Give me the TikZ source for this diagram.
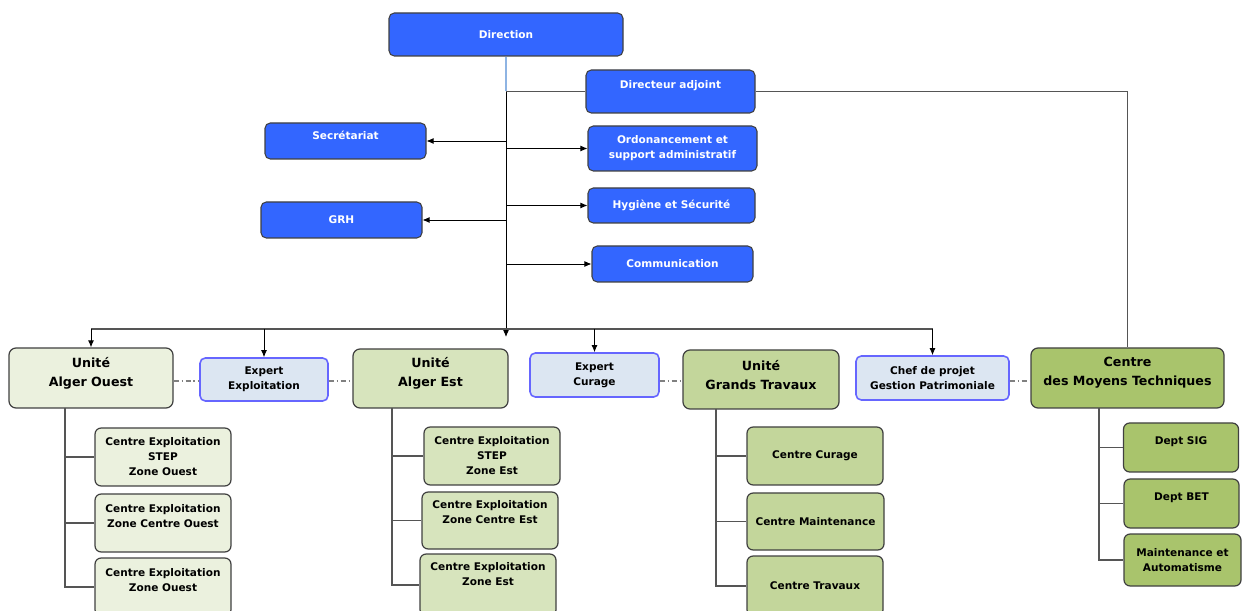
\documentclass[tikz,border=0pt]{standalone}
\usepackage{fontspec}
\setmainfont{DejaVu Sans}
\usetikzlibrary{arrows.meta}

\definecolor{dirblue}{HTML}{3366FF}
\definecolor{trunkblue}{HTML}{8EB4E3}
\definecolor{expfill}{HTML}{DCE6F2}
\definecolor{expline}{HTML}{6666FF}
\definecolor{greenA}{HTML}{EBF1DE}
\definecolor{greenB}{HTML}{D7E4BD}
\definecolor{greenC}{HTML}{C3D69B}
\definecolor{greenD}{HTML}{A9C46C}
\definecolor{edge}{HTML}{404040}
\definecolor{wire}{HTML}{555555}

\newcommand{\boxfont}{\bfseries\fontsize{6}{8.5}\selectfont}
\newcommand{\unitfont}{\bfseries\fontsize{7.2}{10.8}\selectfont}

\begin{document}
\begin{tikzpicture}[x=0.02cm, y=-0.02cm,
    boxsize/.style 2 args={minimum width=#1*0.02cm, minimum height=#2*0.02cm},
    bluebox/.style={draw=edge, fill=dirblue, rounded corners=3pt, line width=0.6pt, text=white, font=\boxfont, align=center, inner sep=0pt},
    expbox/.style={draw=expline, fill=expfill, rounded corners=3pt, line width=0.9pt, font=\boxfont, align=center, inner sep=0pt},
    unitbox/.style={draw=edge, rounded corners=4pt, line width=0.7pt, font=\unitfont, align=center, inner sep=0pt},
    subbox/.style={draw=edge, rounded corners=3.5pt, line width=0.7pt, font=\boxfont, align=center, inner sep=0pt},
    lbl/.style={font=\boxfont, align=center, inner sep=0pt},
    unitlbl/.style={font=\unitfont, align=center, inner sep=0pt},
    link/.style={draw=wire, line width=0.7pt},
    arr/.style={-{Latex[length=4pt,width=3.4pt]}, black, line width=0.5pt},
    peer/.style={draw=gray, line width=0.6pt, dash pattern=on 3pt off 1.5pt on 0.8pt off 1.5pt}]
    \useasboundingbox (0,0) rectangle (1242,611);

    % direction and staff
    \node[bluebox, boxsize={234}{43}] (dir) at (506,34.5) {Direction};
    \node[bluebox, boxsize={169}{43}, label={[lbl, text=white, yshift=3.1pt]center:Directeur adjoint}] (adj) at (670.5,91.5) {};
    \node[bluebox, boxsize={161}{36}, label={[lbl, text=white, yshift=3.4pt]center:Secrétariat}] (sec) at (345.5,141) {};
    \node[bluebox, boxsize={169}{45}] (ord) at (672.5,148.5) {Ordonancement et\\support administratif};
    \node[bluebox, boxsize={167}{35}] (hyg) at (671.5,205.5) {Hygiène et Sécurité};
    \node[bluebox, boxsize={161}{36}] (grh) at (341.5,220) {GRH};
    \node[bluebox, boxsize={161}{36}] (com) at (672.5,264) {Communication};

    % units and experts
    \node[unitbox, fill=greenA, boxsize={164}{60}, label={[unitlbl, yshift=2.8pt]center:{Unité\\Alger Ouest}}] (ouest) at (91,378) {};
    \node[expbox, boxsize={128}{43}] (expl) at (264,379.5) {Expert\\Exploitation};
    \node[unitbox, fill=greenB, boxsize={155}{59}, label={[unitlbl, yshift=2.8pt]center:{Unité\\Alger Est}}] (est) at (430.5,378.5) {};
    \node[expbox, boxsize={129}{44}] (curage) at (594.5,375) {Expert\\Curage};
    \node[unitbox, fill=greenC, boxsize={156}{59}, label={[unitlbl, yshift=2.8pt]center:{Unité\\Grands Travaux}}] (gt) at (761,379.5) {};
    \node[expbox, boxsize={153}{44}] (chef) at (932.5,378) {Chef de projet\\Gestion Patrimoniale};
    \node[unitbox, fill=greenD, boxsize={193}{60}, label={[unitlbl, yshift=2.8pt]center:{Centre\\des Moyens Techniques}}] (cmt) at (1127.5,378) {};

    % centres
    \node[subbox, fill=greenA, boxsize={136}{58}] (ow1) at (163,457) {Centre Exploitation\\STEP\\Zone Ouest};
    \node[subbox, fill=greenA, boxsize={136}{58}, label={[lbl, yshift=4.2pt]center:{Centre Exploitation\\Zone Centre Ouest}}] (ow2) at (163,523) {};
    \node[subbox, fill=greenA, boxsize={136}{58}, label={[lbl, yshift=4.2pt]center:{Centre Exploitation\\Zone Ouest}}] (ow3) at (163,587) {};
    \node[subbox, fill=greenB, boxsize={136}{58}] (ew1) at (492,456) {Centre Exploitation\\STEP\\Zone Est};
    \node[subbox, fill=greenB, boxsize={136}{57}, label={[lbl, yshift=4.8pt]center:{Centre Exploitation\\Zone Centre Est}}] (ew2) at (490,520.5) {};
    \node[subbox, fill=greenB, boxsize={136}{62}, label={[lbl, yshift=6pt]center:{Centre Exploitation\\Zone Est}}] (ew3) at (488,585) {};
    \node[subbox, fill=greenC, boxsize={136}{58}] (gt1) at (815,456) {Centre Curage};
    \node[subbox, fill=greenC, boxsize={137}{57}] (gt2) at (815.5,521.5) {Centre Maintenance};
    \node[subbox, fill=greenC, boxsize={136}{60}] (gt3) at (815,586) {Centre Travaux};
    \node[subbox, fill=greenD, boxsize={115}{49}, label={[lbl, yshift=3.1pt]center:Dept SIG}] (ct1) at (1181,447.5) {};
    \node[subbox, fill=greenD, boxsize={115}{49}, label={[lbl, yshift=3.1pt]center:Dept BET}] (ct2) at (1181.5,503.5) {};
    \node[subbox, fill=greenD, boxsize={117}{52}] (ct3) at (1182.5,560) {Maintenance et\\Automatisme};

    \coordinate (top) at (dir.south |- adj.west);
    \coordinate (bot) at (506,337);
    \coordinate (bus) at (506,329);
    \coordinate (row) at (0,381);
    \coordinate (ow) at (65,408);
    \coordinate (ew) at (392,408);
    \coordinate (gw) at (716,409);
    \coordinate (cw) at (1099,408);

    % trunk
    \draw[trunkblue, line width=0.8pt] (dir.south) -- (top);
    \draw[arr] (top) -- (bot);
    \draw[link] (top) -- (adj.west);
    \draw[link] (adj.east) -| (cmt.north);
    \draw[arr] (sec.east -| top) -- (sec.east);
    \draw[arr] (grh.east -| top) -- (grh.east);
    \draw[arr] (ord.west -| top) -- (ord.west);
    \draw[arr] (hyg.west -| top) -- (hyg.west);
    \draw[arr] (com.west -| top) -- (com.west);

    % bus
    \draw[link] (ouest.north |- bus) -- (chef.north |- bus);
    \draw[arr] (ouest.north |- bus) -- (ouest.north);
    \draw[arr] (expl.north |- bus) -- (expl.north);
    \draw[arr] (curage.north |- bus) -- (curage.north);
    \draw[arr] (chef.north |- bus) -- (chef.north);

    % dash dot links
    \draw[peer] (ouest.east |- row) -- (expl.west |- row);
    \draw[peer] (expl.east |- row) -- (est.west |- row);
    \draw[peer] (curage.east |- row) -- (gt.west |- row);
    \draw[peer] (chef.east |- row) -- (cmt.west |- row);

    % subtrees
    \draw[link] (ow) |- (ow3.west);
    \draw[link] (ow |- ow1.west) -- (ow1.west);
    \draw[link] (ow |- ow2.west) -- (ow2.west);
    \draw[link] (ew) |- (ew3.west);
    \draw[link] (ew |- ew1.west) -- (ew1.west);
    \draw[link] (ew |- ew2.west) -- (ew2.west);
    \draw[link] (gw) |- (gt3.west);
    \draw[link] (gw |- gt1.west) -- (gt1.west);
    \draw[link] (gw |- gt2.west) -- (gt2.west);
    \draw[link] (cw) |- (ct3.west);
    \draw[link] (cw |- ct1.west) -- (ct1.west);
    \draw[link] (cw |- ct2.west) -- (ct2.west);
\end{tikzpicture}
\end{document}
